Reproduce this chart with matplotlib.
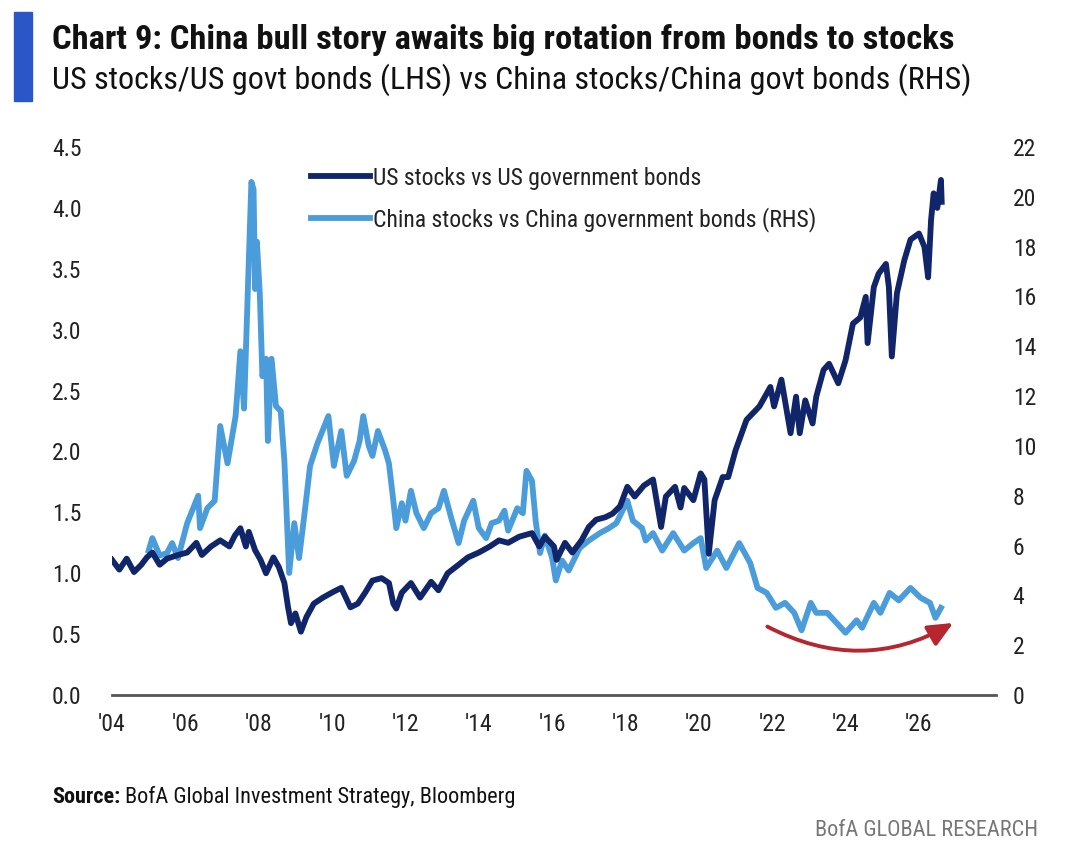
import matplotlib
matplotlib.use("Agg")
import matplotlib.pyplot as plt
from matplotlib import font_manager
from matplotlib.patches import Rectangle, FancyArrowPatch

# pick a narrow font if the box has one
installed = {f.name for f in font_manager.fontManager.ttflist}
FONT = next((f for f in ["Liberation Sans Narrow", "Roboto Condensed", "Roboto", "DejaVu Sans"] if f in installed), "DejaVu Sans")
plt.rcParams["font.family"] = [FONT, "DejaVu Sans"]

# ---- data ----
us_years = [2004.00, 2004.2, 2004.4, 2004.6, 2004.8, 2004.95, 2005.1, 2005.3, 2005.5, 2005.8,
            2006.05, 2006.3, 2006.45, 2006.7, 2006.95, 2007.2, 2007.35, 2007.5, 2007.65, 2007.73,
            2007.9, 2008.05, 2008.2, 2008.4, 2008.55, 2008.7, 2008.8, 2008.88, 2009.0, 2009.15,
            2009.3, 2009.5, 2009.75, 2010.05, 2010.25, 2010.5, 2010.7, 2010.9, 2011.1, 2011.35,
            2011.55, 2011.67, 2011.75, 2011.9, 2012.15, 2012.4, 2012.7, 2012.9, 2013.15, 2013.45,
            2013.7, 2014.0, 2014.3, 2014.55, 2014.8, 2015.1, 2015.45, 2015.65, 2015.8, 2016.05,
            2016.12, 2016.35, 2016.55, 2016.8, 2017.0, 2017.2, 2017.45, 2017.65, 2017.85, 2018.05,
            2018.25, 2018.5, 2018.75, 2018.97, 2019.1, 2019.35, 2019.5, 2019.6, 2019.85, 2020.05,
            2020.15, 2020.27, 2020.43, 2020.65, 2020.8, 2021.0, 2021.3, 2021.65, 2021.95, 2022.05,
            2022.25, 2022.5, 2022.65, 2022.75, 2022.9, 2023.1, 2023.2, 2023.4, 2023.55, 2023.8,
            2024.0, 2024.2, 2024.4, 2024.55, 2024.6, 2024.77, 2024.9, 2025.1, 2025.18, 2025.26,
            2025.4, 2025.6, 2025.77, 2026.0, 2026.15, 2026.25, 2026.33, 2026.4, 2026.5, 2026.6,
            2026.62]
us_vals = [1.11, 1.03, 1.12, 1.01, 1.07, 1.13, 1.17, 1.07, 1.12, 1.15,
           1.17, 1.25, 1.15, 1.22, 1.27, 1.22, 1.31, 1.37, 1.22, 1.34,
           1.19, 1.11, 1.00, 1.13, 1.05, 0.92, 0.72, 0.59, 0.67, 0.52,
           0.64, 0.75, 0.80, 0.85, 0.88, 0.72, 0.75, 0.84, 0.94, 0.96,
           0.92, 0.75, 0.71, 0.84, 0.92, 0.80, 0.93, 0.86, 1.00, 1.07,
           1.13, 1.17, 1.22, 1.27, 1.25, 1.30, 1.33, 1.22, 1.30, 1.22,
           1.11, 1.25, 1.17, 1.27, 1.38, 1.44, 1.46, 1.49, 1.55, 1.71,
           1.63, 1.72, 1.77, 1.38, 1.63, 1.71, 1.54, 1.70, 1.60, 1.82,
           1.77, 1.16, 1.60, 1.79, 1.79, 2.01, 2.26, 2.37, 2.53, 2.37,
           2.59, 2.15, 2.45, 2.15, 2.42, 2.23, 2.45, 2.67, 2.72, 2.56,
           2.75, 3.05, 3.10, 3.27, 2.89, 3.35, 3.46, 3.54, 3.35, 2.78,
           3.30, 3.57, 3.74, 3.79, 3.68, 3.43, 3.90, 4.12, 4.00, 4.23,
           4.05]

cn_years = [2005.0, 2005.1, 2005.3, 2005.5, 2005.64, 2005.8, 2006.05, 2006.35, 2006.4, 2006.6,
            2006.8, 2006.95, 2007.15, 2007.37, 2007.5, 2007.6, 2007.7, 2007.8, 2007.86, 2007.9,
            2007.95, 2008.03, 2008.1, 2008.2, 2008.25, 2008.35, 2008.47, 2008.6, 2008.7, 2008.83,
            2008.97, 2009.1, 2009.25, 2009.4, 2009.6, 2009.9, 2010.05, 2010.25, 2010.4, 2010.6,
            2010.75, 2010.85, 2011.0, 2011.1, 2011.25, 2011.45, 2011.55, 2011.67, 2011.75, 2011.9,
            2012.0, 2012.15, 2012.3, 2012.5, 2012.7, 2012.9, 2013.05, 2013.25, 2013.45, 2013.6,
            2013.85, 2014.0, 2014.2, 2014.35, 2014.55, 2014.7, 2014.8, 2015.05, 2015.2, 2015.3,
            2015.45, 2015.55, 2015.67, 2015.8, 2016.0, 2016.1, 2016.27, 2016.45, 2016.75, 2017.0,
            2017.3, 2017.55, 2017.75, 2018.05, 2018.2, 2018.45, 2018.55, 2018.75, 2019.0, 2019.3,
            2019.6, 2019.85, 2020.05, 2020.2, 2020.5, 2020.75, 2021.1, 2021.4, 2021.6, 2021.85,
            2022.1, 2022.35, 2022.6, 2022.8, 2023.05, 2023.2, 2023.5, 2023.75, 2024.0, 2024.3,
            2024.45, 2024.77, 2024.95, 2025.2, 2025.45, 2025.77, 2026.05, 2026.3, 2026.45, 2026.6]
cn_vals = [5.8, 6.3, 5.6, 5.7, 6.1, 5.5, 6.9, 8.0, 6.7, 7.5,
           7.8, 10.8, 9.3, 11.2, 13.8, 11.5, 16.1, 20.6, 20.3, 16.3,
           18.2, 16.1, 12.8, 13.5, 10.2, 13.5, 11.6, 11.4, 9.4, 4.9,
           6.9, 5.5, 7.3, 9.2, 10.1, 11.2, 9.2, 10.6, 8.8, 9.4,
           10.2, 11.2, 10.0, 9.6, 10.6, 9.8, 9.3, 7.8, 6.7, 7.7,
           7.0, 8.2, 7.3, 6.7, 7.3, 7.5, 8.2, 7.1, 6.1, 7.0,
           7.8, 6.7, 6.3, 6.9, 7.0, 7.4, 6.6, 7.5, 7.3, 9.0,
           8.6, 7.0, 5.7, 6.4, 5.5, 4.6, 5.4, 5.0, 5.9, 6.2,
           6.5, 6.7, 6.9, 7.8, 7.0, 6.7, 6.2, 6.5, 5.8, 6.5,
           5.8, 6.1, 6.3, 5.1, 5.8, 5.1, 6.1, 5.3, 4.3, 4.1,
           3.5, 3.7, 3.3, 2.6, 3.7, 3.3, 3.3, 2.9, 2.5, 3.0,
           2.7, 3.7, 3.3, 4.1, 3.8, 4.3, 3.9, 3.7, 3.1, 3.5]

x_ticks = list(range(2004, 2027, 2))
x_labels = ["'%02d" % (y % 100) for y in x_ticks]
left_ticks = [0.0, 0.5, 1.0, 1.5, 2.0, 2.5, 3.0, 3.5, 4.0, 4.5]
right_ticks = list(range(0, 23, 2))

US_COL = "#10256A"
CN_COL = "#4A9DDA"
RED = "#B5262E"
TXT = "#222222"

fig = plt.figure(figsize=(10.8, 8.65), dpi=100)
ax = fig.add_axes([0.1037, 0.1965, 0.8185, 0.6335])
ax2 = ax.twinx()

l1, = ax.plot(us_years, us_vals, color=US_COL, lw=4.2, solid_joinstyle="round", zorder=3)
l2, = ax2.plot(cn_years, cn_vals, color=CN_COL, lw=4.2, solid_joinstyle="round", zorder=2)
ax.set_zorder(ax2.get_zorder() + 1)
ax.patch.set_visible(False)

ax.set_xlim(2004, 2028.1)
ax.set_ylim(0, 4.5)
ax2.set_ylim(0, 22)
ax.set_xticks(x_ticks)
ax.set_xticklabels(x_labels)
ax.set_yticks(left_ticks)
ax.set_yticklabels(["%.1f" % v for v in left_ticks])
ax2.set_yticks(right_ticks)

for a in (ax, ax2):
    for s in a.spines.values():
        s.set_visible(False)
ax.spines["bottom"].set_visible(True)
ax.spines["bottom"].set_color("#555555")
ax.spines["bottom"].set_linewidth(2)

ax.tick_params(axis="x", length=0, pad=13, labelsize=17, labelcolor=TXT)
ax.tick_params(axis="y", length=0, pad=22, labelsize=17, labelcolor=TXT)
ax2.tick_params(axis="y", length=0, pad=12, labelsize=17, labelcolor=TXT)

# red "rotation" arrow, on the RHS scale
arrow = FancyArrowPatch((2021.8, 2.8), (2027.0, 2.95), connectionstyle="arc3,rad=0.28",
                        arrowstyle="-|>,head_length=1.0,head_width=0.45", mutation_scale=15,
                        color=RED, lw=2.8, zorder=5)
ax2.add_patch(arrow)

fig.legend([l1, l2], ["US stocks vs US government bonds", "China stocks vs China government bonds (RHS)"],
           loc="upper left", bbox_to_anchor=(0.268, 0.832), frameon=False, fontsize=17,
           handlelength=2.5, handletextpad=0.15, labelspacing=0.75, labelcolor=TXT)

# header
fig.patches.append(Rectangle((14 / 1080, 1 - 101 / 865), 18 / 1080, 89 / 865,
                             transform=fig.transFigure, color="#2B56C8"))
fig.text(52 / 1080, 1 - 40 / 865, "Chart 9: China bull story awaits big rotation from bonds to stocks",
         fontsize=24.8, fontweight="bold", va="center", ha="left", color="#111111")
fig.text(52 / 1080, 1 - 80 / 865, "US stocks/US govt bonds (LHS) vs China stocks/China govt bonds (RHS)",
         fontsize=23, va="center", ha="left", color="#111111")

# footer
src = fig.text(52 / 1080, 1 - 797 / 865, "Source:", fontsize=16, fontweight="bold",
               va="center", ha="left", color="#111111")
fig.canvas.draw()
bb = src.get_window_extent()
fig.text(bb.x1 / 1080 + 0.004, 1 - 797 / 865, "BofA Global Investment Strategy, Bloomberg",
         fontsize=16, va="center", ha="left", color="#111111")
fig.text(1038 / 1080, 1 - 830 / 865, "BofA GLOBAL RESEARCH", fontsize=16, va="center", ha="right",
         color="#777777")

fig.savefig("out.png", dpi=100)
